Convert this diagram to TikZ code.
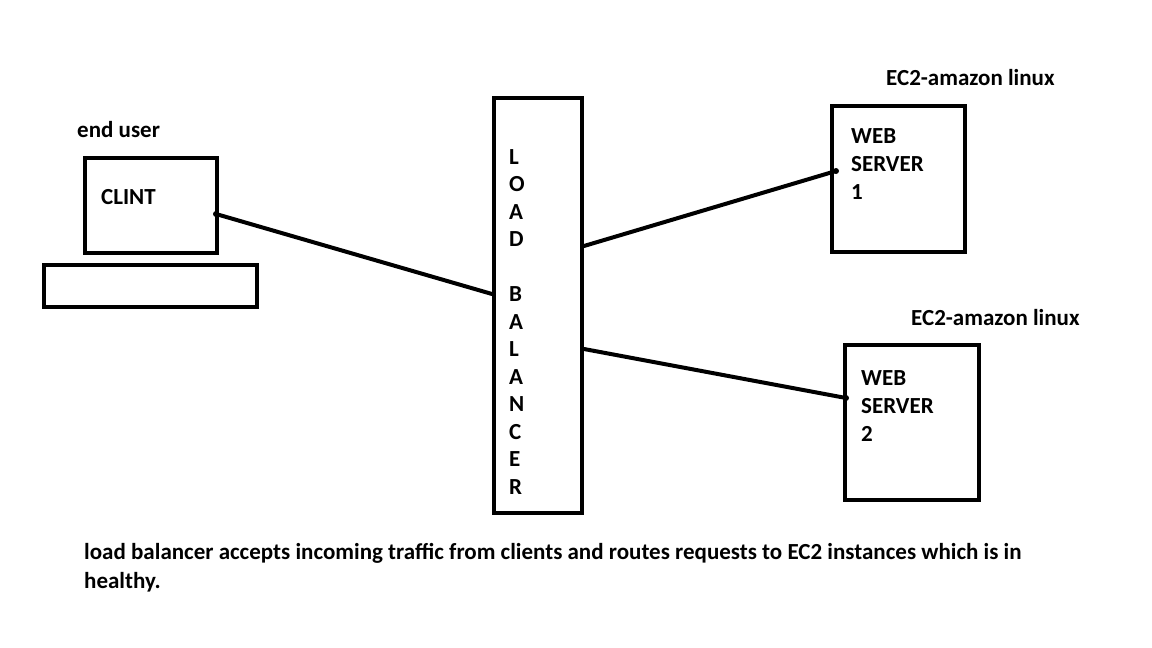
\documentclass[tikz,border=0pt]{standalone}
\usepackage{fontspec}
\setmainfont{Carlito}
\tikzset{
  box/.style={draw=black, line width=4pt, fill=none, outer sep=0pt, inner sep=0pt, anchor=north west},
  lbl/.style={font=\bfseries\fontsize{23}{28}\selectfont, inner sep=0pt, anchor=base west, align=left},
  link/.style={draw=black, line width=4pt, line cap=round},
}
\begin{document}
\begin{tikzpicture}[x=1pt,y=-1pt]
\useasboundingbox (0,0) rectangle (1152,648);
% client
\node[box, minimum width=132pt, minimum height=95pt] (client) at (85,158) {};
\node[box, minimum width=213pt, minimum height=42pt] (keyboard) at (44,265) {};
\node[lbl] (enduser) at (77,137) {end user};
\node[lbl] (clint) at (101,204) {CLINT};
% load balancer
\node[box, minimum width=88pt, minimum height=415pt] (lb) at (494,98) {};
\node[lbl, font=\bfseries\fontsize{23}{27.5}\selectfont] (lbtext) at (509,494) {L\\O\\A\\D\\[27.5pt]B\\A\\L\\A\\N\\C\\E\\R};
% web servers
\node[box, minimum width=133pt, minimum height=146pt] (ws1) at (832,106) {};
\node[lbl] (ws1text) at (851,199) {WEB\\SERVER\\1};
\node[lbl] (ec2a) at (886,85) {EC2-amazon linux};
\node[box, minimum width=134pt, minimum height=155pt] (ws2) at (845,345) {};
\node[lbl] (ws2text) at (861,441) {WEB\\SERVER\\2};
\node[lbl] (ec2b) at (911,325) {EC2-amazon linux};
% connector end points
\coordinate (cA) at (216,214);
\coordinate (lbA) at (492,294);
\coordinate (lbB) at (584,246);
\coordinate (wsA) at (836,171);
\coordinate (lbC) at (584,349);
\coordinate (wsB) at (846,398);
\draw[link] (cA) -- (lbA);
\draw[link] (lbB) -- (wsA);
\draw[link] (lbC) -- (wsB);
\fill (cA) circle (3pt);
\fill (wsA) circle (3pt);
\fill (wsB) circle (3pt);
% caption
\node[lbl, font=\bfseries\fontsize{23}{29}\selectfont] (caption) at (84,588) {load balancer accepts incoming traffic from clients and routes requests to EC2 instances which is in\\healthy.};
\end{tikzpicture}
\end{document}
